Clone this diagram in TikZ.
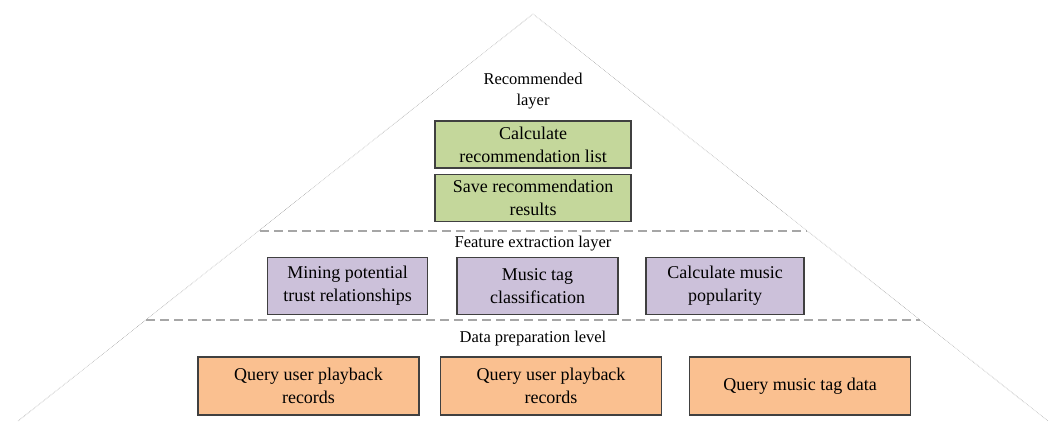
\documentclass[tikz,border=0pt]{standalone}
\usepackage{fontspec}
\setmainfont{Liberation Serif}
\usetikzlibrary{positioning}

\definecolor{recgreen}{HTML}{C4D79B}
\definecolor{featpurple}{HTML}{CCC1DA}
\definecolor{dataorange}{HTML}{FAC090}
\definecolor{boxedge}{HTML}{404040}
\definecolor{sepgrey}{HTML}{A6A6A6}

\begin{document}
\begin{tikzpicture}[x=1pt, y=-1pt,
    layerbox/.style={draw=boxedge, line width=1.4pt, align=center, inner sep=0pt,
        font=\fontsize{18}{23}\selectfont},
    recbox/.style={layerbox, fill=recgreen, minimum width=196pt, minimum height=47pt},
    featbox/.style={layerbox, fill=featpurple, minimum height=57pt},
    databox/.style={layerbox, fill=dataorange, minimum width=221pt, minimum height=58pt},
    layertitle/.style={align=center, inner sep=0pt, font=\fontsize{16.5}{21}\selectfont},
    separator/.style={sepgrey, line width=1.4pt, dash pattern=on 9pt off 5pt},
    pyramid/.style={gray!70, line width=0.6pt, densely dotted}]
    \useasboundingbox (0,0) rectangle (1053,421);

    % Pyramid outline
    \coordinate (apex) at (533,14);
    \coordinate (baseL) at (18,421);
    \coordinate (baseR) at (1048,421);
    \draw[pyramid] (baseL) -- (apex) -- (baseR);

    % Layer separators
    \coordinate (sepAL) at (260,231);
    \coordinate (sepAR) at (807,231);
    \coordinate (sepBL) at (146,320);
    \coordinate (sepBR) at (920,320);
    \draw[separator] (sepAL) -- (sepAR);
    \draw[separator] (sepBL) -- (sepBR);

    % Recommended layer
    \node[layertitle] (rectitle) at (533,91) {Recommended\\layer};
    \node[recbox] (calclist) at (533,144.5) {Calculate\\recommendation list};
    \node[recbox] (saveres) at (533,198) {Save recommendation\\results};

    % Feature extraction layer
    \node[layertitle] (feattitle) at (533,244) {Feature extraction layer};
    \node[featbox, minimum width=160pt] (trust) at (347.5,286) {Mining potential\\trust relationships};
    \node[featbox, minimum width=161pt] (tagclass) at (537.5,286) {Music tag\\classification};
    \node[featbox, minimum width=158pt] (popular) at (725,286) {Calculate music\\popularity};

    % Data preparation level
    \node[layertitle] (datatitle) at (533,339) {Data preparation level};
    \node[databox] (playA) at (308.5,386) {Query user playback\\records};
    \node[databox] (playB) at (551,386) {Query user playback\\records};
    \node[databox] (tagdata) at (800,386) {Query music tag data};
\end{tikzpicture}
\end{document}
